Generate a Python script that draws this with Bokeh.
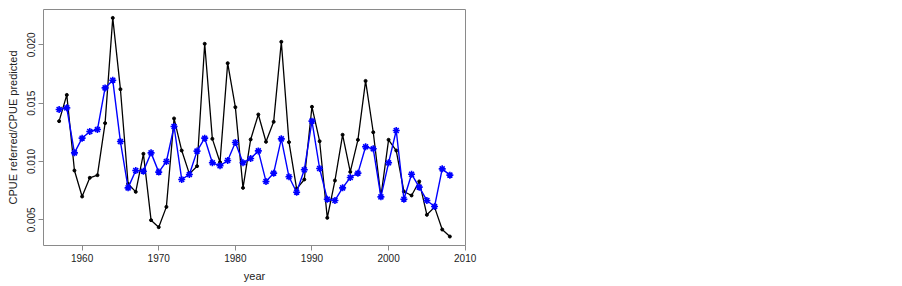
from bokeh.plotting import figure
from bokeh.models import Range1d, FixedTicker
from bokeh.embed import file_html
from bokeh.resources import INLINE

years = list(range(1957, 2009))

cpue_referred = [
    0.01346, 0.01571, 0.00923, 0.00700, 0.00860, 0.00883, 0.01329, 0.02231,
    0.01620, 0.00809, 0.00740, 0.01066, 0.00497, 0.00437, 0.00611, 0.01369,
    0.01094, 0.00894, 0.00960, 0.02009, 0.01194, 0.00994, 0.01843, 0.01466,
    0.00774, 0.01189, 0.01403, 0.01169, 0.01340, 0.02026, 0.01166, 0.00766,
    0.00846, 0.01469, 0.01174, 0.00517, 0.00837, 0.01229, 0.00911, 0.01186,
    0.01691, 0.01251, 0.00700, 0.01186, 0.01094, 0.00743, 0.00709, 0.00829,
    0.00543, 0.00609, 0.00417, 0.00357,
]

cpue_predicted = [
    0.01446, 0.01460, 0.01074, 0.01200, 0.01257, 0.01274, 0.01631, 0.01697,
    0.01171, 0.00774, 0.00923, 0.00917, 0.01074, 0.00909, 0.01000, 0.01300,
    0.00846, 0.00889, 0.01089, 0.01200, 0.00989, 0.00963, 0.01009, 0.01163,
    0.00989, 0.01026, 0.01091, 0.00829, 0.00900, 0.01194, 0.00869, 0.00737,
    0.00929, 0.01346, 0.00940, 0.00677, 0.00666, 0.00774, 0.00863, 0.00900,
    0.01126, 0.01109, 0.00697, 0.00989, 0.01266, 0.00677, 0.00891, 0.00780,
    0.00666, 0.00614, 0.00937, 0.00883,
]

x_ticks = [1960, 1970, 1980, 1990, 2000, 2010]
x_tick_labels = ["1960", "1970", "1980", "1990", "2000", "2010"]
y_ticks = [0.005, 0.010, 0.015, 0.020]
y_tick_labels = ["0.005", "0.010", "0.015", "0.020"]

p = figure(
    width=886, height=285,
    output_backend="svg", toolbar_location=None,
    x_range=Range1d(1954.96, 2010.04),
    y_range=Range1d(0.0028, 0.02303),
    min_border_left=43, min_border_right=421,
    min_border_top=9, min_border_bottom=40,
)

p.background_fill_color = "white"
p.border_fill_color = "white"
p.outline_line_color = "#8a8a8a"
p.outline_line_width = 1
p.xgrid.visible = False
p.ygrid.visible = False

font = "Liberation Sans"

for ax in (p.xaxis[0], p.yaxis[0]):
    ax.axis_line_color = None
    ax.major_tick_line_color = "#8a8a8a"
    ax.major_tick_in = 0
    ax.major_tick_out = 5
    ax.minor_tick_line_color = None
    ax.major_label_text_font = font
    ax.major_label_text_font_size = "10px"
    ax.major_label_text_color = "#222222"
    ax.axis_label_text_font = font
    ax.axis_label_text_font_size = "11px"
    ax.axis_label_text_font_style = "normal"
    ax.axis_label_text_color = "#222222"

p.xaxis.ticker = FixedTicker(ticks=x_ticks)
p.xaxis.major_label_overrides = dict(zip(x_ticks, x_tick_labels))
p.yaxis.ticker = FixedTicker(ticks=y_ticks)
p.yaxis.major_label_overrides = dict(zip(y_ticks, y_tick_labels))
p.yaxis.major_label_orientation = "vertical"

p.xaxis.axis_label = "year"
p.yaxis.axis_label = "CPUE referred/CPUE predicted"
p.xaxis.major_label_standoff = 3
p.xaxis.axis_label_standoff = 5
p.yaxis.major_label_standoff = 3
p.yaxis.axis_label_standoff = 6

p.line(years, cpue_referred, line_color="black", line_width=1.3)
p.scatter(years, cpue_referred, marker="circle", size=3,
          fill_color="black", line_color="black")

p.line(years, cpue_predicted, line_color="#0000ff", line_width=1.4)
p.scatter(years, cpue_predicted, marker="asterisk", size=7,
          line_color="#0000ff", line_width=1.6)

open("out.html", "w").write(file_html(p, INLINE))
